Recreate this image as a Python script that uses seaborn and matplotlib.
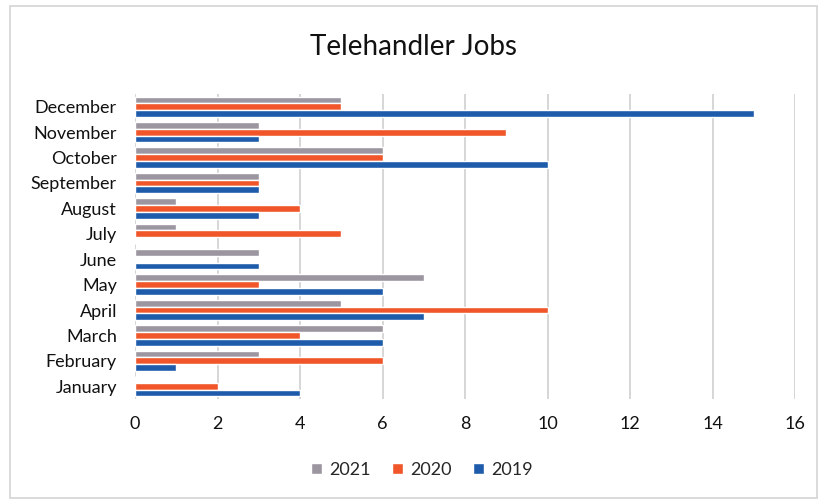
import matplotlib
matplotlib.use("Agg")
import matplotlib.pyplot as plt
import seaborn as sns
import pandas as pd
from matplotlib.patches import Rectangle, Patch

months = ["January", "February", "March", "April", "May", "June",
          "July", "August", "September", "October", "November", "December"]
jobs_2021 = [0, 3, 6, 5, 7, 3, 1, 1, 3, 6, 3, 5]
jobs_2020 = [2, 6, 4, 10, 3, 0, 5, 4, 3, 6, 9, 5]
jobs_2019 = [4, 1, 6, 7, 6, 3, 0, 3, 3, 10, 3, 15]
series_names = ["2021", "2020", "2019"]
colors = {"2021": "#9C96A0", "2020": "#F0562A", "2019": "#1E5BAA"}

rows = []
for name, vals in zip(series_names, [jobs_2021, jobs_2020, jobs_2019]):
    for m, v in zip(months, vals):
        rows.append({"Month": m, "Year": name, "Jobs": v})
df = pd.DataFrame(rows)

sns.set_theme(style="white")
plt.rcParams["font.family"] = ["Lato", "DejaVu Sans"]

fig = plt.figure(figsize=(8.27, 5.04), dpi=100)
ax = fig.add_axes([135 / 827, 1 - 399 / 504, 660 / 827, 305 / 504])

order = months[::-1]
sns.barplot(data=df, y="Month", x="Jobs", hue="Year", order=order,
            hue_order=series_names, palette=colors, orient="h",
            width=0.8, ax=ax, legend=False, saturation=1)

ax.set_xlim(0, 16)
ax.set_xticks(range(0, 17, 2))
ax.tick_params(axis="x", labelsize=13, length=0, pad=12, colors="#111111")
ax.tick_params(axis="y", labelsize=13, length=0, pad=13, colors="#111111")
ax.set_xlabel("")
ax.set_ylabel("")
ax.grid(axis="x", color="#D0D0D0", linewidth=1.2)
ax.set_axisbelow(True)
for s in ax.spines.values():
    s.set_visible(False)

fig.text(0.5, 1 - 47 / 504, "Telehandler Jobs", ha="center", va="center",
         fontsize=20, color="#111111")

handles = [Patch(facecolor=colors[n], label=n) for n in series_names]
fig.legend(handles=handles, loc="center", bbox_to_anchor=(0.51, 1 - 470 / 504),
           ncol=3, frameon=False, fontsize=13, handlelength=0.6,
           handleheight=0.6, columnspacing=1.2, handletextpad=0.4)

fig.patches.append(Rectangle((0.012, 0.012), 0.976, 0.976, transform=fig.transFigure,
                             fill=False, edgecolor="#D4D4D4", linewidth=1.2))

fig.savefig("out.png", dpi=100)
